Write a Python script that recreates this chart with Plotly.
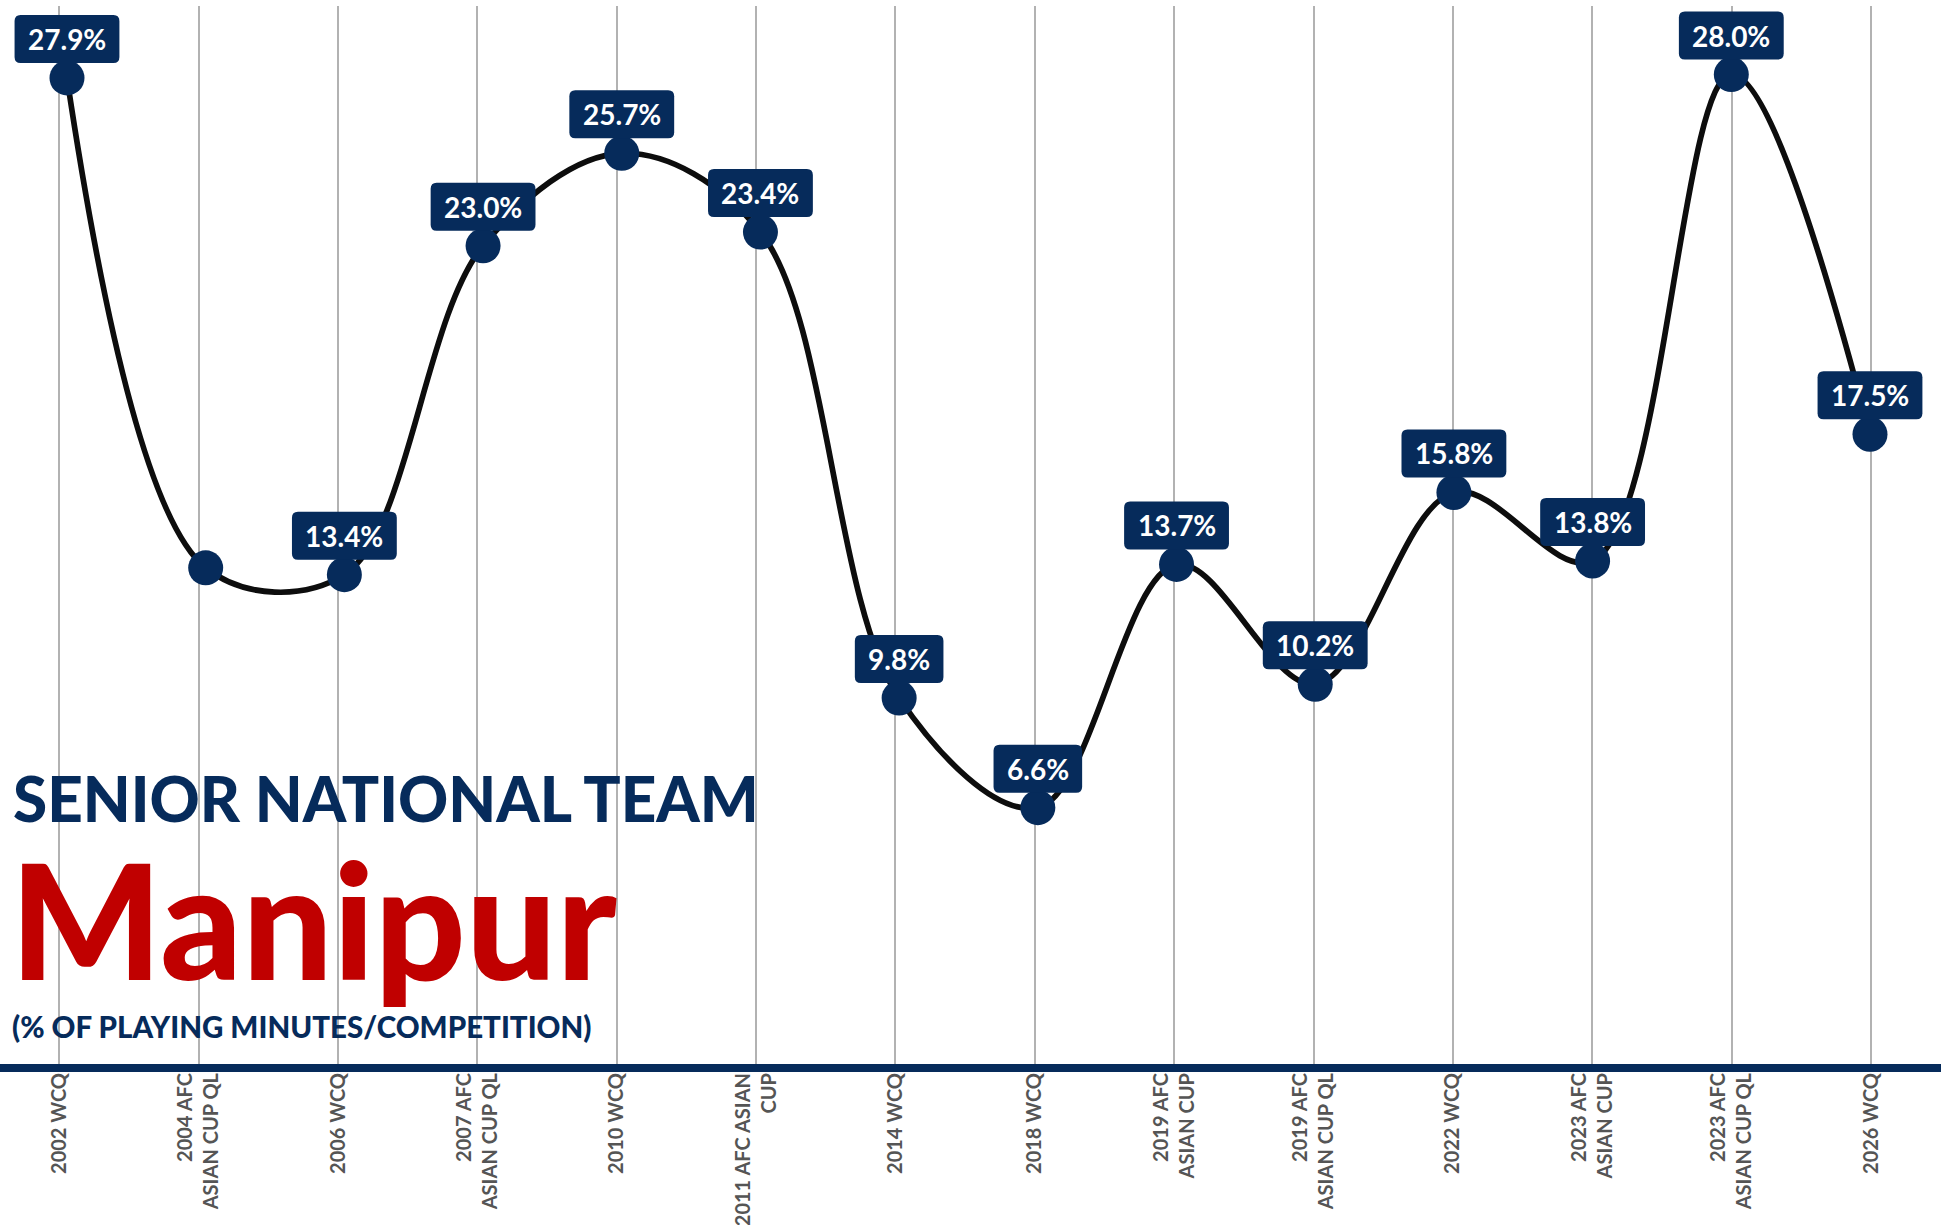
import plotly.graph_objects as go

# Competitions (x categories) and share of playing minutes (%)
competitions = [
    "2002 WCQ",
    "2004 AFC<br>ASIAN CUP QL",
    "2006 WCQ",
    "2007 AFC<br>ASIAN CUP QL",
    "2010 WCQ",
    "2011 AFC ASIAN<br>CUP",
    "2014 WCQ",
    "2018 WCQ",
    "2019 AFC<br>ASIAN CUP",
    "2019 AFC<br>ASIAN CUP QL",
    "2022 WCQ",
    "2023 AFC<br>ASIAN CUP",
    "2023 AFC<br>ASIAN CUP QL",
    "2026 WCQ",
]
minutes_pct = [27.9, 13.6, 13.4, 23.0, 25.7, 23.4, 9.8, 6.6, 13.7, 10.2, 15.8, 13.8, 28.0, 17.5]
show_label = [True, False, True, True, True, True, True, True, True, True, True, True, True, True]

NAVY = "#062B5B"
RED = "#C00000"
GRID = "#B2B2B2"
TICK = "#555555"

idx = list(range(len(competitions)))

fig = go.Figure()
# invisible carrier trace so the category axis (grid + tick labels) is built
fig.add_trace(go.Scatter(
    x=idx, y=minutes_pct, xaxis="x", yaxis="y", mode="markers",
    marker=dict(size=1, opacity=0), hoverinfo="skip", showlegend=False,
))
fig.add_trace(go.Scatter(
    x=idx, y=minutes_pct, xaxis="x2", yaxis="y",
    mode="lines+markers",
    line=dict(color="#0d0d0d", width=5.7, shape="spline", smoothing=1.0),
    marker=dict(size=35, color=NAVY),
    hoverinfo="skip", showlegend=False,
))

# value badges: rounded navy boxes above each marker (sizes in pixels)
LABEL_SIZE = 28
ADV = {"d": 0.58, ".": 0.23, "%": 0.81}


def text_width(s):
    w = 0.0
    for ch in s:
        w += ADV["d"] if ch.isdigit() else ADV.get(ch, 0.6)
    return w * LABEL_SIZE


def rounded_box(w, h, r, y0):
    x0, x1 = -w / 2, w / 2
    y1 = y0 + h
    return (
        f"M {x0 + r},{y0} L {x1 - r},{y0} Q {x1},{y0} {x1},{y0 + r} "
        f"L {x1},{y1 - r} Q {x1},{y1} {x1 - r},{y1} L {x0 + r},{y1} "
        f"Q {x0},{y1} {x0},{y1 - r} L {x0},{y0 + r} Q {x0},{y0} {x0 + r},{y0} Z"
    )


BOX_H = 48
BOX_GAP = 15
for i, v in enumerate(minutes_pct):
    if not show_label[i]:
        continue
    txt = f"{v:.1f}%"
    w = text_width(txt) + 27
    fig.add_shape(
        type="path", xref="x2", yref="y",
        xsizemode="pixel", ysizemode="pixel",
        xanchor=i, yanchor=v,
        path=rounded_box(w, BOX_H, 6, BOX_GAP),
        fillcolor=NAVY, line=dict(width=0), layer="above",
    )
    fig.add_annotation(
        x=i, y=v, xref="x2", yref="y", text=txt, showarrow=False,
        yshift=BOX_GAP + BOX_H / 2,
        font=dict(family="Lato", size=LABEL_SIZE, color="white", weight="bold"),
    )

# thick baseline under the plot
fig.add_shape(type="line", xref="paper", yref="paper", x0=0, x1=1, y0=0, y1=0,
              line=dict(color=NAVY, width=8), layer="above")

# title block
fig.add_annotation(xref="paper", yref="paper", x=0.0055, y=0.2538,
                   xanchor="left", yanchor="middle", showarrow=False,
                   text="SENIOR NATIONAL TEAM",
                   font=dict(family="Lato", size=62, color=NAVY, weight=900))
fig.add_annotation(xref="paper", yref="paper", x=0.004, y=0.1417,
                   xanchor="left", yanchor="middle", showarrow=False,
                   text="Manipur",
                   font=dict(family="Lato", size=160, color=RED, weight=900))
fig.add_annotation(xref="paper", yref="paper", x=0.005, y=0.0391,
                   xanchor="left", yanchor="middle", showarrow=False,
                   text="(% OF PLAYING MINUTES/COMPETITION)",
                   font=dict(family="Lato", size=29.5, color=NAVY, weight=900))

fig.update_layout(
    width=1941, height=1225,
    margin=dict(l=0, r=0, t=6, b=157, autoexpand=False),
    paper_bgcolor="white", plot_bgcolor="white",
    xaxis=dict(
        range=[-0.4255, 13.502], tickmode="array", tickvals=idx, ticktext=competitions,
        tickangle=-90, showgrid=True, gridcolor=GRID, gridwidth=2,
        zeroline=False, showline=False, ticks="",
        tickfont=dict(family="Lato", size=20, color=TICK, weight="bold"),
        fixedrange=True,
    ),
    xaxis2=dict(
        range=[-0.483, 13.512], overlaying="x", anchor="y", visible=False,
        fixedrange=True,
    ),
    yaxis=dict(range=[-1, 30], visible=False, showgrid=False, zeroline=False,
               fixedrange=True),
)

fig.write_html("out.html")
